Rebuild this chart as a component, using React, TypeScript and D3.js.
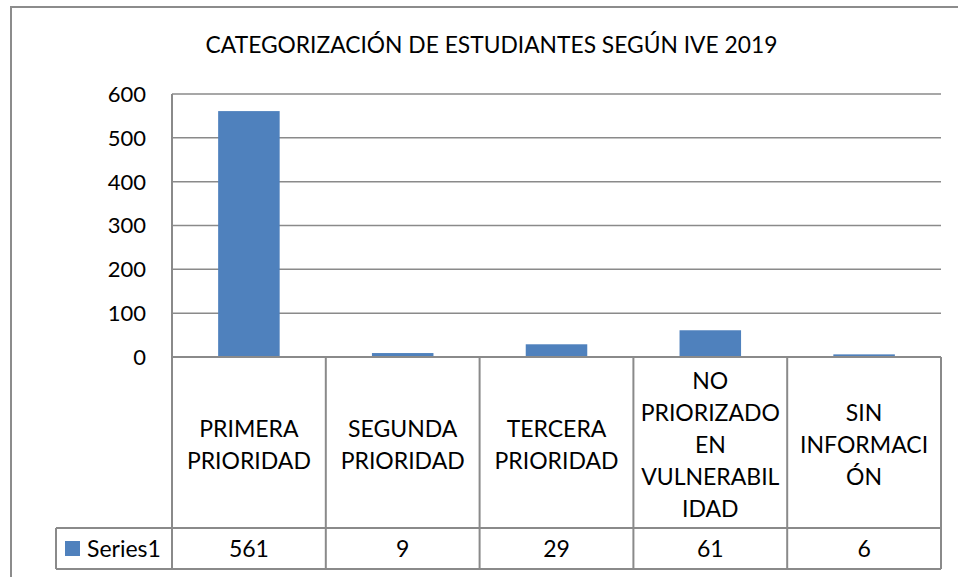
import React, { useEffect, useRef } from "react";
import * as d3 from "d3";

const title = "CATEGORIZACIÓN DE ESTUDIANTES SEGÚN IVE 2019";
const categories = [
  "PRIMERA PRIORIDAD",
  "SEGUNDA PRIORIDAD",
  "TERCERA PRIORIDAD",
  "NO PRIORIZADO EN VULNERABILIDAD",
  "SIN INFORMACIÓN",
];
// the labels as they wrap inside the data table cells
const categoryLines = [
  ["PRIMERA", "PRIORIDAD"],
  ["SEGUNDA", "PRIORIDAD"],
  ["TERCERA", "PRIORIDAD"],
  ["NO", "PRIORIZADO", "EN", "VULNERABIL", "IDAD"],
  ["SIN", "INFORMACI", "ÓN"],
];
const seriesName = "Series1";
const values = [561, 9, 29, 61, 6];
const yTicks = [0, 100, 200, 300, 400, 500, 600];

const W = 958;
const H = 577;
const FONT = "Lato, 'Open Sans', sans-serif";
const GRID = "#8a8a8a";
const BAR = "#4F81BD";

export default function App() {
  const ref = useRef<SVGSVGElement | null>(null);

  useEffect(() => {
    const svg = d3.select(ref.current);
    svg.selectAll("*").remove();

    const left = 172, right = 941, top = 94, zero = 357;
    const rowTop = 528, rowBottom = 569, legendLeft = 56;

    const x = d3.scaleBand<string>().domain(categories).range([left, right]).padding(0);
    const y = d3.scaleLinear().domain([0, 600]).range([zero, top]);

    // outer chart frame
    svg.append("rect")
      .attr("x", 11).attr("y", 7)
      .attr("width", W + 20).attr("height", H + 20)
      .attr("fill", "white")
      .attr("stroke", "#8c8c8c")
      .attr("stroke-width", 2);

    svg.append("text")
      .attr("x", 491.5).attr("y", 53)
      .attr("text-anchor", "middle")
      .style("font-family", FONT)
      .style("font-size", "22.8px")
      .text(title);

    // gridlines
    svg.append("g").selectAll("line")
      .data(yTicks.filter(d => d > 0))
      .join("line")
      .attr("x1", left).attr("x2", right)
      .attr("y1", d => y(d)).attr("y2", d => y(d))
      .attr("stroke", GRID)
      .attr("stroke-width", 1.5);

    // y tick labels
    svg.append("g").selectAll("text")
      .data(yTicks)
      .join("text")
      .attr("x", 146)
      .attr("y", d => y(d))
      .attr("dy", "0.36em")
      .attr("text-anchor", "end")
      .style("font-family", FONT)
      .style("font-size", "22px")
      .text(d => d);

    // bars
    const bw = x.bandwidth() * 0.4;
    svg.append("g").selectAll("rect")
      .data(values)
      .join("rect")
      .attr("x", (d, i) => x(categories[i])! + (x.bandwidth() - bw) / 2)
      .attr("width", bw)
      .attr("y", d => y(d))
      .attr("height", d => zero - y(d))
      .attr("fill", BAR);

    // data table lines
    const lines = svg.append("g")
      .attr("stroke", GRID)
      .attr("stroke-width", 2);
    lines.append("line").attr("x1", left).attr("x2", left).attr("y1", top).attr("y2", rowBottom);
    lines.append("line").attr("x1", left).attr("x2", right).attr("y1", zero).attr("y2", zero);
    lines.append("line").attr("x1", legendLeft).attr("x2", right).attr("y1", rowTop).attr("y2", rowTop);
    lines.append("line").attr("x1", legendLeft).attr("x2", right).attr("y1", rowBottom).attr("y2", rowBottom);
    lines.append("line").attr("x1", legendLeft).attr("x2", legendLeft).attr("y1", rowTop).attr("y2", rowBottom);
    lines.selectAll("line.col")
      .data(categories)
      .join("line")
      .attr("class", "col")
      .attr("x1", d => x(d)! + x.bandwidth())
      .attr("x2", d => x(d)! + x.bandwidth())
      .attr("y1", zero).attr("y2", rowBottom);

    // category labels
    const lineH = 32;
    const mid = (zero + rowTop) / 2 + 2;
    categories.forEach((c, i) => {
      const ls = categoryLines[i];
      const t = svg.append("text")
        .attr("text-anchor", "middle")
        .style("font-family", FONT)
        .style("font-size", "23px");
      ls.forEach((s, j) => {
        t.append("tspan")
          .attr("x", x(c)! + x.bandwidth() / 2)
          .attr("y", mid + (j - (ls.length - 1) / 2) * lineH)
          .attr("dy", "0.36em")
          .text(s);
      });
    });

    // value row
    const rowMid = (rowTop + rowBottom) / 2;
    svg.append("g").selectAll("text")
      .data(values)
      .join("text")
      .attr("x", (d, i) => x(categories[i])! + x.bandwidth() / 2)
      .attr("y", rowMid)
      .attr("dy", "0.36em")
      .attr("text-anchor", "middle")
      .style("font-family", FONT)
      .style("font-size", "23px")
      .text(d => d);

    // legend key
    svg.append("rect")
      .attr("x", 65).attr("y", rowMid - 7.5)
      .attr("width", 15).attr("height", 15)
      .attr("fill", BAR);
    svg.append("text")
      .attr("x", 87).attr("y", rowMid)
      .attr("dy", "0.36em")
      .style("font-family", FONT)
      .style("font-size", "23px")
      .text(seriesName);
  }, []);

  return (
    <svg
      ref={ref}
      width={W}
      height={H}
      style={{ position: "absolute", left: 0, top: 0, background: "white" }}
    />
  );
}
